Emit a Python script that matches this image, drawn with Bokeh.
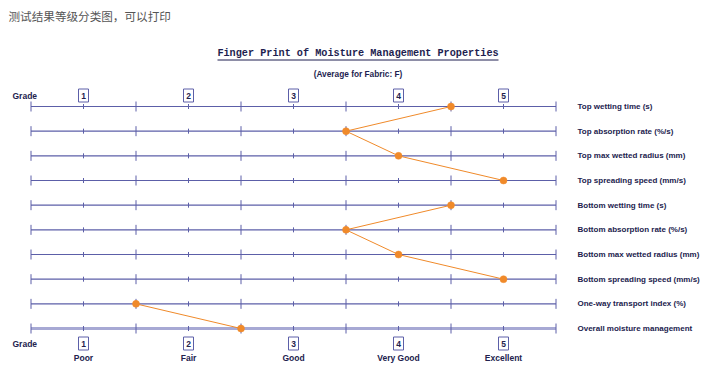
from bokeh.plotting import figure
from bokeh.models import Range1d
from bokeh.core.properties import value
from bokeh.embed import file_html
from bokeh.resources import INLINE

# ---- data ----
grades = [1, 2, 3, 4, 5]
grade_names = ["Poor", "Fair", "Good", "Very Good", "Excellent"]
properties = [
    "Top wetting time (s)",
    "Top absorption rate (%/s)",
    "Top max wetted radius (mm)",
    "Top spreading speed (mm/s)",
    "Bottom wetting time (s)",
    "Bottom absorption rate (%/s)",
    "Bottom max wetted radius (mm)",
    "Bottom spreading speed (mm/s)",
    "One-way transport index (%)",
    "Overall moisture management",
]
groups = ["Top"] * 4 + ["Bottom"] * 4 + ["Overall"] * 2
grade_values = [4.5, 3.5, 4.0, 5.0, 4.5, 3.5, 4.0, 5.0, 1.5, 2.5]
title_text = "Finger Print of Moisture Management Properties"
subtitle_text = "(Average for Fabric: F)"
header_text = "测试结果等级分类图，可以打印"

# ---- geometry (pixel scale helpers) ----
W, H = 712, 382
PX_PER_GRADE = 105.0
PX_PER_ROW = 24.67
x0_img, y0_img = 30.5, 106.0   # image px of grade 0.5 / row 0

def gx(px):  # image px -> grade units
    return 0.5 + (px - x0_img) / PX_PER_GRADE

def ry(py):  # image px -> row units
    return (py - y0_img) / PX_PER_ROW

p = figure(width=W, height=H, output_backend="svg", toolbar_location=None,
           x_range=Range1d(gx(0), gx(W)),
           y_range=Range1d(ry(H), ry(0)),
           min_border=0, outline_line_color=None)
p.axis.visible = False
p.grid.visible = False
p.background_fill_color = "white"
p.border_fill_color = "white"

n = len(properties)
rows = list(range(n))
lo, hi = 0.5, 5.5
axis_col = "#5c5fa8"

# scale lines
p.segment(x0=[lo] * (n - 1), y0=rows[:-1], x1=[hi] * (n - 1), y1=rows[:-1],
          line_color=axis_col, line_width=1.2)
p.segment(x0=[lo], y0=[rows[-1]], x1=[hi], y1=[rows[-1]],
          line_color="#a7a9d4", line_width=3)

# ticks
major = [lo + i for i in range(6)]
big = 5 / PX_PER_ROW
small = 2.5 / PX_PER_ROW
tx0, ty0, tx1, ty1 = [], [], [], []
for r in rows:
    for t in major:
        tx0.append(t); tx1.append(t); ty0.append(r - big); ty1.append(r + big)
    for t in grades:
        tx0.append(t); tx1.append(t); ty0.append(r - small); ty1.append(r + small)
p.segment(x0=tx0, y0=ty0, x1=tx1, y1=ty1, line_color=axis_col, line_width=1)

# profile lines per group & markers
orange = "#f08a2a"
xs, ys = [], []
for g in dict.fromkeys(groups):
    idx = [i for i, gg in enumerate(groups) if gg == g]
    xs.append([grade_values[i] for i in idx])
    ys.append([rows[i] for i in idx])
p.multi_line(xs=xs, ys=ys, line_color=orange, line_width=1)
p.scatter(x=grade_values, y=rows, marker="circle", size=7, fill_color=orange,
          line_color=orange, line_width=0.5)

# property labels
lab_col = "#22224e"
p.text(x=[gx(577)] * n, y=rows, text=properties, text_font=value("Liberation Sans"),
       text_font_style="bold", text_font_size="8px", text_color=lab_col,
       text_baseline="middle", text_align="left")

# grade header/footer boxes
for yimg in (95, 343):
    yy = ry(yimg)
    p.rect(x=grades, y=[yy] * 5, width=10 / PX_PER_GRADE, height=13 / PX_PER_ROW,
           fill_color="white", line_color=axis_col, line_width=1)
    p.text(x=grades, y=[yy + 0.02] * 5, text=[str(g) for g in grades],
           text_font=value("Liberation Sans"), text_font_style="bold",
           text_font_size="8.5px", text_color=lab_col,
           text_baseline="middle", text_align="center")
    p.text(x=[gx(12)], y=[yy], text=["Grade"], text_font=value("Liberation Sans"),
           text_font_style="bold", text_font_size="8.5px", text_color=lab_col,
           text_baseline="middle", text_align="left")

p.text(x=grades, y=[ry(357)] * 5, text=grade_names, text_font=value("Liberation Sans"),
       text_font_style="bold", text_font_size="8.5px", text_color=lab_col,
       text_baseline="middle", text_align="center")

# titles
cx = gx(357.5)
p.text(x=[cx], y=[ry(53)], text=[title_text], text_font=value("Liberation Mono"),
       text_font_style="bold", text_font_size="10.2px", text_color="#1e1e50",
       text_baseline="middle", text_align="center")
p.segment(x0=[gx(217)], y0=[ry(59.5)], x1=[gx(498)], y1=[ry(59.5)],
          line_color="#1e1e50", line_width=1)
p.text(x=[cx], y=[ry(73)], text=[subtitle_text], text_font=value("Liberation Sans"),
       text_font_style="bold", text_font_size="8.3px", text_color="#1e1e50",
       text_baseline="middle", text_align="center")
p.text(x=[gx(8)], y=[ry(15)], text=[header_text], text_font=value("Noto Sans CJK SC"),
       text_font_size="11.6px", text_color="#555555",
       text_baseline="middle", text_align="left")

open("out.html", "w").write(file_html(p, INLINE))
